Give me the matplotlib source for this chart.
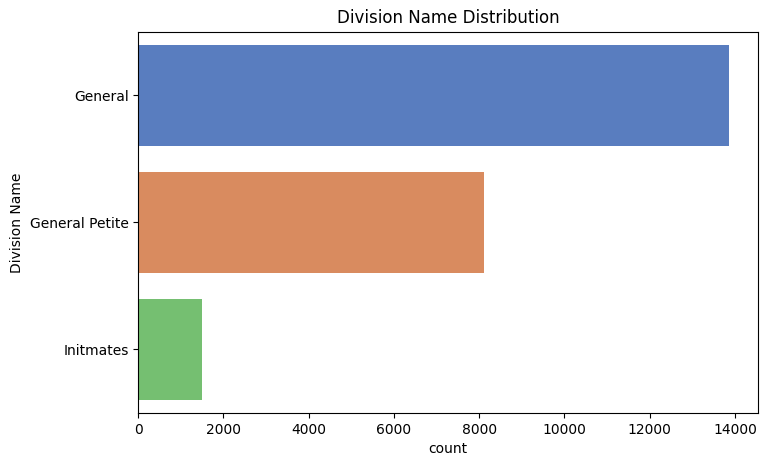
import numpy as np
import pandas as pd
import matplotlib
matplotlib.use("Agg")
import matplotlib.pyplot as plt
import seaborn as sns

# division counts
division_names = ["General", "General Petite", "Initmates"]
division_counts = [13850, 8120, 1502]

df = pd.DataFrame({"Division Name": division_names, "count": division_counts})

fig, ax = plt.subplots(figsize=(7.68, 4.68), dpi=100)
fig.subplots_adjust(left=0.180, right=0.987, bottom=0.1175, top=0.932)

sns.barplot(data=df, x="count", y="Division Name", hue="Division Name",
            palette="muted", legend=False, ax=ax, orient="h")

ax.set_title("Division Name Distribution")
ax.set_xlabel("count")
ax.set_ylabel("Division Name")

fig.savefig("out.png", dpi=100)
